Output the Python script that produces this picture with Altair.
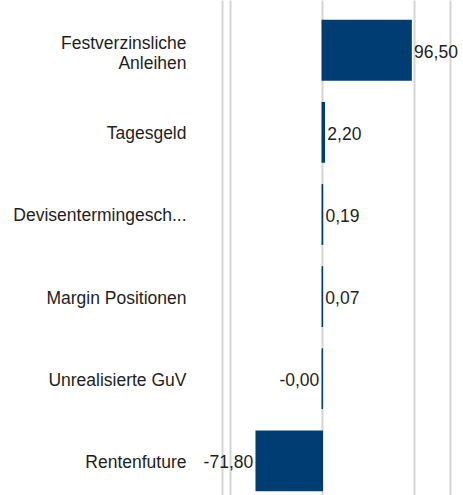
import altair as alt
import pandas as pd

categories = ["Festverzinsliche Anleihen", "Tagesgeld", "Devisentermingesch...",
              "Margin Positionen", "Unrealisierte GuV", "Rentenfuture"]
values = [96.50, 2.20, 0.19, 0.07, -0.001, -71.80]
value_labels = ["96,50", "2,20", "0,19", "0,07", "-0,00", "-71,80"]
grid_values = [-109, -100, 0, 100, 138.8]

df = pd.DataFrame({"category": categories, "value": values, "label": value_labels})
df["neg"] = df["label"].str.startswith("-")

BAR = "#003d73"
FONT = "Liberation Sans"
TXT = "#1e1e1e"
FS = 17.5

xscale = alt.Scale(domain=[-109, 138.8], nice=False, zero=False)
x = alt.X("value:Q", scale=xscale,
          axis=alt.Axis(values=grid_values, labels=False, ticks=False, domain=False,
                        title=None, grid=True, gridColor="#d4d4d4", gridWidth=2))
y = alt.Y("category:N", sort=categories,
          scale=alt.Scale(paddingInner=0.278, paddingOuter=0.153, align=0.82),
          axis=alt.Axis(title=None, ticks=False, domain=False, labelFontSize=FS,
                        labelColor=TXT, labelFont=FONT, labelPadding=36,
                        labelLimit=0, labelLineHeight=20.5,
                        labelOffset={"condition": {"test": "datum.value == 'Festverzinsliche Anleihen'", "value": -6.5}, "value": 2},
                        labelExpr="datum.value == 'Festverzinsliche Anleihen' ? ['Festverzinsliche', 'Anleihen'] : datum.label"))

base = alt.Chart(df)
bars = base.mark_bar(color=BAR, stroke=BAR, strokeWidth=1.5).encode(
    x=x, x2=alt.datum(0), y=y)

pos = base.transform_filter("!datum.neg").mark_text(
    align="left", baseline="middle", dx=3, dy=2.5, fontSize=FS, font=FONT, color=TXT
).encode(x=alt.X("value:Q", scale=xscale), y=alt.Y("category:N", sort=categories), text="label:N")

neg = base.transform_filter("datum.neg").mark_text(
    align="right", baseline="middle", dx=-3, dy=2.5, fontSize=FS, font=FONT, color=TXT
).encode(x=alt.X("value:Q", scale=xscale), y=alt.Y("category:N", sort=categories), text="label:N")

chart = alt.layer(bars, pos, neg).properties(
    width=228, height=495,
    autosize=alt.AutoSizeParams(type="none"),
    padding={"left": 222, "top": 0, "right": 13, "bottom": 0},
).configure_view(stroke=None)

chart.save("out.html", embed_options={"renderer": "svg", "actions": False})
